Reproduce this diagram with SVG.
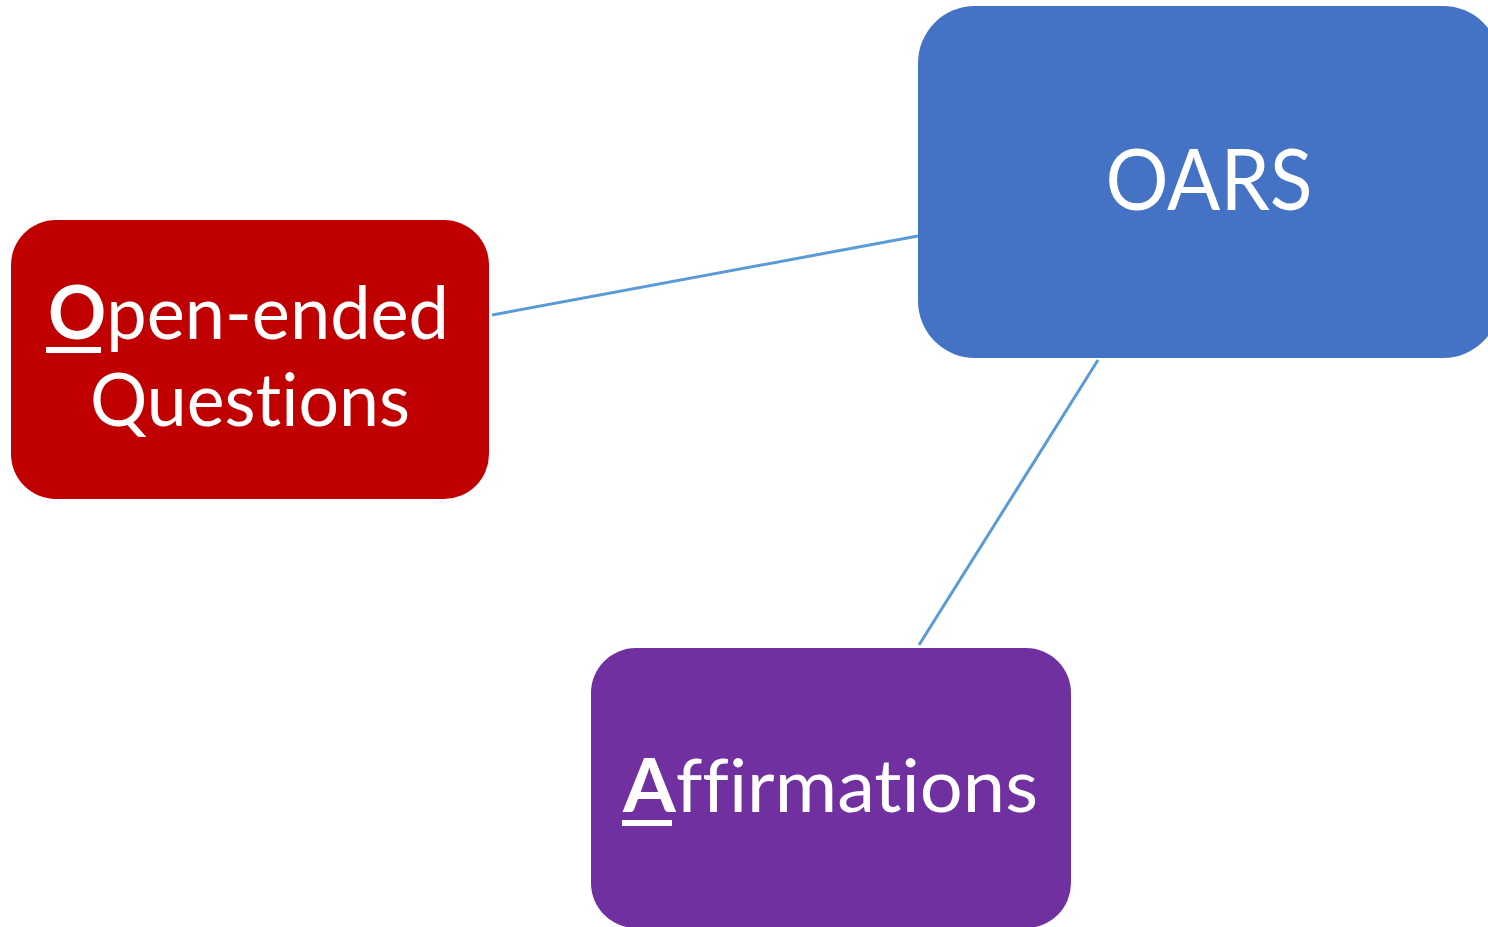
<svg xmlns="http://www.w3.org/2000/svg" width="1488" height="927" viewBox="0 0 1488 927">
<style>
.lbl{font-family:Lato,"Open Sans","Liberation Sans",sans-serif;fill:#fff;font-variant-ligatures:none;font-feature-settings:"liga" 0,"dlig" 0,"clig" 0;}
.conn{stroke:#5B9BD5;stroke-width:3;fill:none;}
</style>
<rect width="1488" height="927" fill="#fff"/>
<g id="connectors">
<line class="conn" x1="492" y1="315" x2="918" y2="236"/>
<line class="conn" x1="1098" y1="360" x2="919" y2="645"/>
</g>
<g id="node-oars">
<rect x="918" y="6" width="582" height="352" rx="57" fill="#4472C4"/>
<text class="lbl" x="1209" y="210" font-size="86" text-anchor="middle" textLength="207" lengthAdjust="spacingAndGlyphs">OARS</text>
</g>
<g id="node-open">
<rect x="11" y="220" width="478" height="279" rx="45" fill="#C00000"/>
<text class="lbl" x="48" y="339" font-size="74" textLength="401" lengthAdjust="spacingAndGlyphs"><tspan font-weight="bold">O</tspan>pen-ended</text>
<rect x="46" y="347" width="55" height="6" fill="#fff"/>
<text class="lbl" x="90" y="426" font-size="74" textLength="320" lengthAdjust="spacingAndGlyphs">Questions</text>
</g>
<g id="node-affirm">
<rect x="591" y="648" width="480" height="280" rx="45" fill="#7030A0"/>
<text class="lbl" x="623" y="812" font-size="74" textLength="415" lengthAdjust="spacingAndGlyphs"><tspan font-weight="bold">A</tspan>ffirmations</text>
<rect x="622" y="820" width="50" height="6" fill="#fff"/>
</g>
</svg>
